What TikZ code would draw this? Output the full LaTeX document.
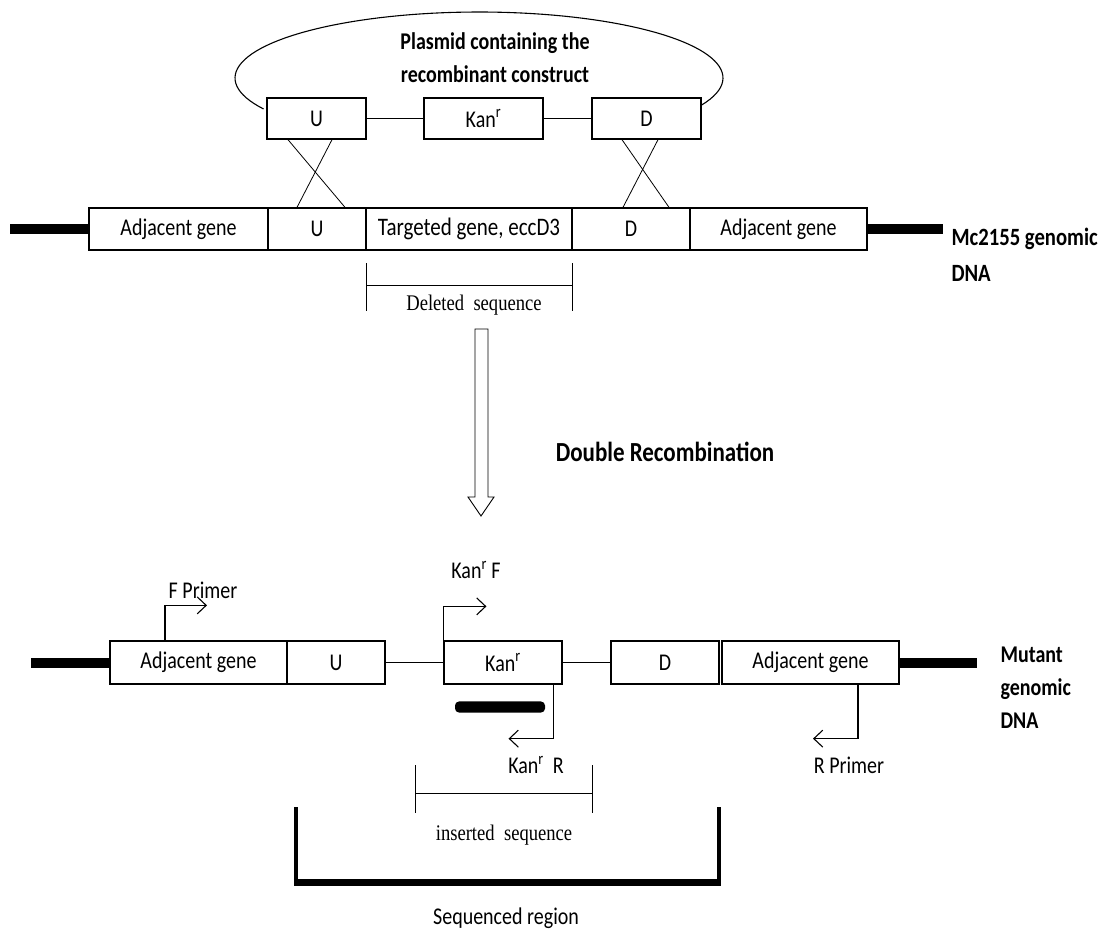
\documentclass[tikz,border=0pt]{standalone}
\usepackage{fontspec}
\setmainfont{Carlito}
\newfontfamily\tnr{Liberation Serif}
\usetikzlibrary{arrows.meta}
\newcommand{\kan}{Kan\textsuperscript{r}}

\begin{document}
\begin{tikzpicture}[x=1pt, y=-1pt,
    every node/.style={yscale=1.2, transform shape},
    seg/.style={draw, line width=1.1pt, inner sep=0pt, font=\fontsize{20}{22}\selectfont},
    dna/.style={line width=10pt},
    link/.style={line width=1.1pt},
    primer/.style={line width=1.1pt, -{Straight Barb[length=9pt,width=17pt]}},
    plainlbl/.style={font=\fontsize{20}{22}\selectfont},
    boldlbl/.style={font=\fontsize{20}{27.5}\selectfont\bfseries},
    seriflbl/.style={font=\fontsize{18.6}{22}\selectfont\tnr}]
    \useasboundingbox (0,0) rectangle (1102,929);

    % Plasmid
    \draw[link] plot[domain=152:384, samples=90] ({479+244*cos(\x)}, {78+66*sin(\x)});
    \node[boldlbl, align=center] (plasmidTxt) at (495,58) {Plasmid containing the\\recombinant construct};
    \node[seg, minimum width=99pt, minimum height=34.2pt] (pU) at (316.5,118.5) {U};
    \node[seg, minimum width=119pt, minimum height=34.2pt] (pKan) at (483.5,118.5) {\kan};
    \node[seg, minimum width=109pt, minimum height=34.2pt] (pD) at (646.5,118.5) {D};
    \draw[link] (pU) -- (pKan);
    \draw[link] (pKan) -- (pD);

    % Genomic DNA
    \node[seg, minimum width=179pt, minimum height=35pt] (gAdjL) at (178.5,229) {Adjacent gene};
    \node[seg, minimum width=98pt, minimum height=35pt] (gU) at (317,229) {U};
    \node[seg, minimum width=206pt, minimum height=35pt, font=\fontsize{21}{22}\selectfont] (gTarget) at (469,229) {Targeted gene, eccD3};
    \node[seg, minimum width=118pt, minimum height=35pt] (gD) at (631,229) {D};
    \node[seg, minimum width=177pt, minimum height=35pt] (gAdjR) at (778.5,229) {Adjacent gene};
    \coordinate (gEndL) at (10,229);
    \coordinate (gEndR) at (943,229);
    \draw[dna] (gEndL) -- (gAdjL);
    \draw[dna] (gAdjR) -- (gEndR);
    \node[boldlbl, font=\fontsize{20.7}{30}\selectfont\bfseries, anchor=west, align=left] (gLbl) at (948,255) {Mc2155 genomic\\DNA};

    % Crossovers
    \draw[link, line width=0.8pt] ([xshift=-28.5pt]pU.south) -- ([xshift=28pt]gU.north);
    \draw[link, line width=0.8pt] ([xshift=15.5pt]pU.south) -- ([xshift=-20pt]gU.north);
    \draw[link, line width=0.8pt] ([xshift=-24.5pt]pD.south) -- ([xshift=38pt]gD.north);
    \draw[link, line width=0.8pt] ([xshift=11.5pt]pD.south) -- ([xshift=-8pt]gD.north);

    % Deleted sequence
    \draw[line width=0.9pt] (366,263) -- (366,311);
    \draw[line width=0.9pt] (572,263) -- (572,311);
    \draw[line width=0.9pt] (366,285) -- (572,285);
    \node[seriflbl] (delTxt) at (474,305) {Deleted\ \ sequence};

    % Recombination arrow
    \draw[line width=0.9pt] (475,329) -- (475,497) -- (468,497) -- (481,516) -- (494,497) -- (488,497) -- (488,329) -- cycle;
    \node[boldlbl, font=\fontsize{23}{28}\selectfont\bfseries] (recTxt) at (665,452) {Double Recombination};

    % Mutant DNA
    \node[seg, minimum width=177pt, minimum height=35.8pt] (mAdjL) at (198.5,662.5) {Adjacent gene};
    \node[seg, minimum width=98pt, minimum height=35.8pt] (mU) at (336,662.5) {U};
    \node[seg, minimum width=118pt, minimum height=35.8pt] (mKan) at (503,662.5) {\kan};
    \node[seg, minimum width=108pt, minimum height=35.8pt] (mD) at (665,662.5) {D};
    \node[seg, minimum width=177pt, minimum height=35.8pt] (mAdjR) at (810.5,662.5) {Adjacent gene};
    \draw[link] (mU) -- (mKan);
    \draw[link] (mKan) -- (mD);
    \coordinate (mEndL) at (31,662.5);
    \coordinate (mEndR) at (977,662.5);
    \draw[dna] (mEndL) -- (mAdjL);
    \draw[dna] (mAdjR) -- (mEndR);
    \node[boldlbl, anchor=west, align=left] (mLbl) at (997,688) {Mutant\\genomic\\DNA};

    % Primers
    \draw[primer] ([xshift=-33.5pt]mAdjL.north) -- ++(0,-35) -- ++(42,0);
    \node[plainlbl] (fLbl) at (203,590) {F Primer};
    \draw[primer] (mKan.north west) -- ++(0,-34) -- ++(43,0);
    \node[plainlbl] (kanFLbl) at (476,570) {\kan\ F};
    \draw[primer] ([xshift=-9pt]mKan.south east) -- ++(0,54) -- ++(-45,0);
    \node[plainlbl] (kanRLbl) at (536,765) {\kan\ \ R};
    \draw[primer] ([xshift=47.5pt]mAdjR.south) -- ++(0,54) -- ++(-45,0);
    \node[plainlbl] (rLbl) at (849,765) {R Primer};

    % Probe
    \node[fill, rounded corners=4pt, minimum width=90pt, minimum height=9.2pt, inner sep=0pt] (probe) at (500,707) {};

    % Inserted sequence
    \draw[line width=0.9pt] (415,765) -- (415,813);
    \draw[line width=0.9pt] (592,765) -- (592,813);
    \draw[line width=0.9pt] (415,793) -- (592,793);
    \node[seriflbl] (insTxt) at (504,835) {inserted\ \ sequence};

    % Sequenced region
    \draw[line width=4pt] (296,807) -- (296,882);
    \draw[line width=4pt] (719,807) -- (719,882);
    \draw[line width=7pt] (294,882) -- (721,882);
    \node[plainlbl] (seqTxt) at (506,918) {Sequenced region};
\end{tikzpicture}
\end{document}
